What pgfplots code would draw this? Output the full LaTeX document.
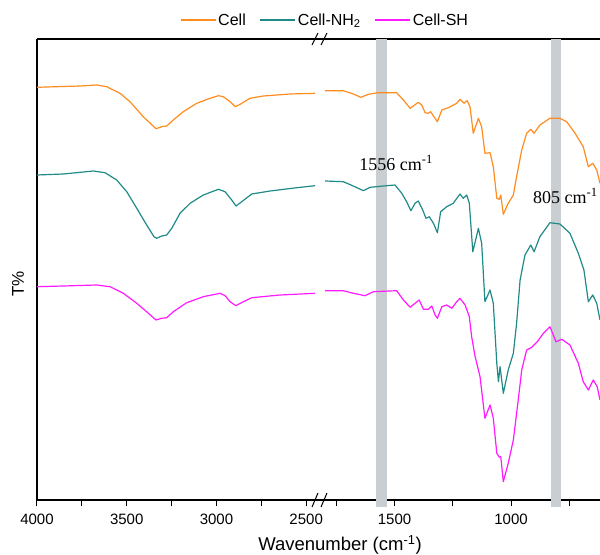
\documentclass[border=0pt]{standalone}
\usepackage{pgfplots}
\pgfplotsset{compat=1.18}
\usepackage{fontspec}
\setmainfont{Liberation Sans}
\newfontfamily\timesf{Liberation Serif}
\definecolor{cOrange}{HTML}{FF8C1E}
\definecolor{cTeal}{HTML}{1F8A87}
\definecolor{cMag}{HTML}{FF1AFF}
\definecolor{bandc}{HTML}{C9CED3}
\pgfplotsset{
  brk/.style={
    scale only axis, height=461bp, ymin=0, ymax=461, x dir=reverse,
    axis x line=box,
    axis line style={line width=1.2bp, black},
    ytick=\empty, xtick pos=left, tick align=outside,
    major tick length=6bp, minor tick length=6bp,
    every tick/.style={black, line width=1bp},
    tick label style={font=\fontsize{15bp}{18bp}\selectfont, yshift=-5bp},
    clip=false,
    every axis plot/.append style={line width=1.2bp, no markers, line join=round},
  },
}
\begin{document}
\begin{tikzpicture}
\useasboundingbox (-37bp,-55bp) rectangle (563bp,500bp);
% left segment
\begin{axis}[brk, at={(0bp,0bp)}, anchor=south west, width=283bp,
  axis y line=left,
  x axis line style={-}, y axis line style={-},
  every outer y axis line/.append style={-},
  xmin=2423, xmax=4000,
  xtick={2500,3000,3500,4000}, xticklabels={2500,3000,3500,4000},
  minor xtick={2750,3250,3750},
  ylabel={T\%}, ylabel style={font=\fontsize{17bp}{20bp}\selectfont, at={(axis description cs:-0.067,0.469)}, anchor=center},
]
\addplot[cOrange] coordinates {(4000,412.7)(3760,414)(3667,415)(3612,413.3)(3537,406.7)(3482,398.3)(3408,383.3)(3337,371.3)(3305,373.3)(3277,374)(3240,380)(3185,388.3)(3110,396.7)(3036,401.7)(2989,404.3)(2962,403.3)(2924,398.3)(2896,393.3)(2868,395.7)(2813,401.7)(2739,404)(2590,406)(2450,406.7)};
\addplot[cTeal] coordinates {(4000,325)(3853,326)(3686,329)(3621,327.3)(3556,320)(3500,308.3)(3444,291.7)(3389,275)(3348,263.3)(3333,261.7)(3305,264)(3277,265)(3249,271.7)(3203,286.7)(3147,296.7)(3073,305)(2989,310.7)(2952,308.3)(2915,300)(2891,294)(2859,298.3)(2803,306)(2701,309)(2552,312.3)(2450,314.3)};
\addplot[cMag] coordinates {(4000,213.3)(3853,214)(3667,215)(3593,213.3)(3519,206.7)(3444,196.7)(3389,188.3)(3337,180)(3305,181.7)(3277,182.3)(3240,188.3)(3166,197.3)(3073,203.3)(2980,206.7)(2952,204.3)(2924,198.3)(2892,194.3)(2850,198.3)(2803,202.3)(2645,205)(2450,206.7)};
\end{axis}
% right segment
\begin{axis}[brk, at={(283bp,0bp)}, anchor=south west, width=280bp,
  axis y line=none,
  x axis line style={-},
  xmin=618, xmax=1820,
  xtick={1000,1500}, xticklabels={1000,1500},
  minor xtick={750,1250,1750},
  legend style={at={(axis description cs:0.018,1.041)}, anchor=center, draw=none, fill=none,
    font=\fontsize{16bp}{19bp}\selectfont, legend columns=3,
    /tikz/every even column/.append style={column sep=12bp}},
  legend image code/.code={\draw[#1] (0bp,0bp) -- (35bp,0bp);},
]
\addplot[draw=none, fill=bandc, forget plot] coordinates {(1579,-7)(1533,-7)(1533,461)(1579,461)};
\addplot[draw=none, fill=bandc, forget plot] coordinates {(830,-7)(784,-7)(784,461)(830,461)};
\addplot[cOrange] coordinates {(1798,409.3)(1720,409.3)(1677,406)(1645,402.7)(1612,405.7)(1570,407.3)(1491,407.3)(1462,400)(1433,391.7)(1419,394)(1398,397.7)(1383,395)(1369,387.3)(1355,386.7)(1345,388.3)(1333,384)(1316,378.3)(1297,390)(1269,392.3)(1233,396.7)(1219,400.7)(1202,396.7)(1188,399.3)(1176,393.3)(1162,366.7)(1140,381.7)(1126,373.3)(1112,346.7)(1090,347.3)(1076,333.3)(1061,301.7)(1050,300.7)(1044,305)(1033,285.7)(1012,296.7)(990,305)(976,323.3)(954,350)(933,366.7)(915,370.7)(901,366.7)(876,375)(833,381.7)(790,381.7)(761,378.3)(725,366.7)(690,353.3)(668,333.3)(649,336.7)(632,330)(618,316.7)};
\addlegendentry{Cell}
\addplot[cTeal] coordinates {(1798,319)(1720,318.3)(1677,314)(1634,309.3)(1605,312.7)(1548,314)(1498,315)(1469,306.7)(1448,298.3)(1430,289.3)(1412,296.7)(1398,299)(1379,290)(1365,281.7)(1351,283.3)(1333,276.7)(1316,267.3)(1302,288.3)(1276,293.3)(1248,296.7)(1219,306)(1205,301.7)(1190,305)(1179,296.7)(1164,248.3)(1140,271.7)(1126,256.7)(1112,198.3)(1090,210)(1076,196.7)(1061,136.7)(1054,118.3)(1047,133.3)(1033,106.7)(1012,130)(990,146.7)(976,176.7)(961,220)(940,245)(915,255)(901,248.3)(876,263.3)(833,277.3)(790,276)(747,266.7)(711,246.7)(687,230)(668,198.3)(649,205)(632,196.7)(618,180)};
\addlegendentry{Cell-NH\textsubscript{2}}
\addplot[cMag] coordinates {(1798,209.3)(1720,209.3)(1677,206.7)(1627,204.3)(1591,208.3)(1491,209.3)(1462,200)(1433,192.7)(1412,196.7)(1394,200)(1376,190.7)(1355,190.7)(1340,194)(1326,185)(1316,181.7)(1297,193.3)(1276,195)(1254,191.7)(1233,198.3)(1219,201.7)(1197,195)(1179,183.3)(1169,163.3)(1154,143.3)(1133,123.3)(1112,81.7)(1090,95)(1076,81.7)(1061,46.7)(1050,42.7)(1044,43.3)(1033,18.3)(1012,36.7)(990,60)(969,100)(954,130)(933,150)(911,152.7)(887,158.3)(861,166.7)(833,173.3)(807,158.3)(782,160.7)(747,155)(711,136.7)(690,118.3)(668,110)(647,120)(630,113.3)(618,100)};
\addlegendentry{Cell-SH}
\node[anchor=west, inner sep=0pt, font=\timesf\fontsize{18bp}{20bp}\selectfont] at (axis cs:1652,337) {1556 cm\textsuperscript{-1}};
\node[anchor=east, inner sep=0pt, font=\timesf\fontsize{18bp}{20bp}\selectfont] at (axis cs:627,304) {805 cm\textsuperscript{-1}};
\end{axis}
% axis break marks
\draw[line width=1bp] (275bp,455bp) -- (281bp,467bp);
\draw[line width=1bp] (284bp,455bp) -- (290bp,467bp);
\draw[line width=1bp] (275bp,-7bp) -- (281bp,7bp);
\draw[line width=1bp] (284bp,-7bp) -- (290bp,7bp);
\node[font=\fontsize{18.5bp}{22bp}\selectfont] at (303bp,-45bp) {Wavenumber (cm\textsuperscript{-1})};
\end{tikzpicture}
\end{document}
